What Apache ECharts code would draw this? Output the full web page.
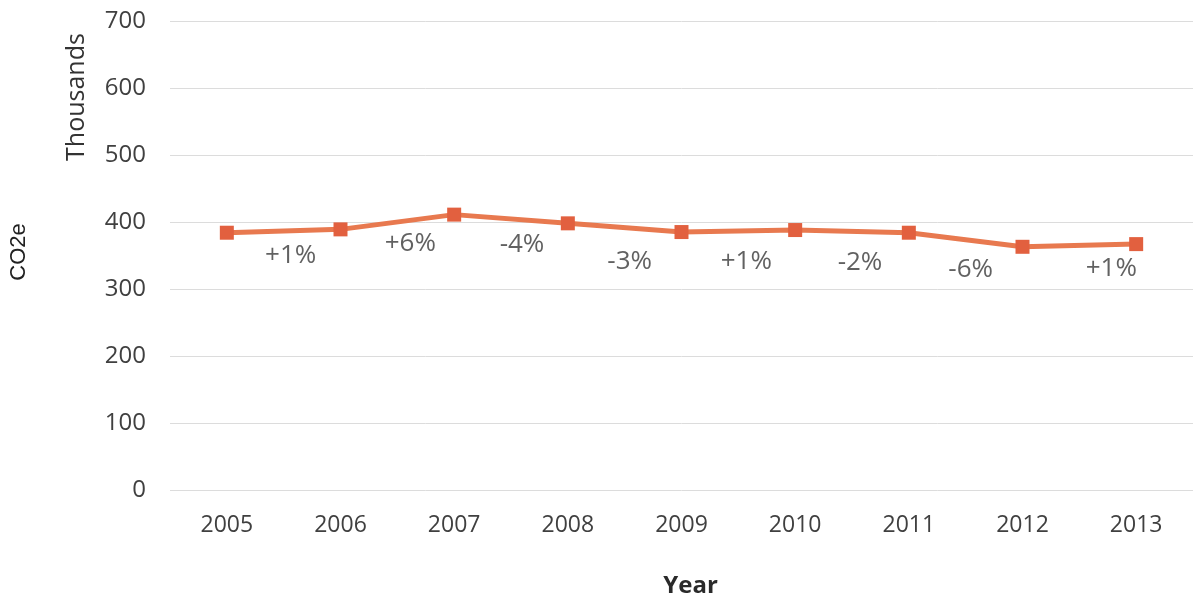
<!DOCTYPE html>
<html><head><meta charset="utf-8">
<script src="https://cdn.jsdelivr.net/npm/echarts@6/dist/echarts.min.js"></script>
<style>html,body{margin:0;padding:0;background:#fff}#c{width:1195px;height:603px}</style>
</head><body><div id="c"></div>
<script>
const years = ['2005','2006','2007','2008','2009','2010','2011','2012','2013'];
const co2e = [384, 389, 411, 398, 385, 388, 384, 363, 367];
const changes = ['+1%','+6%','-4%','-3%','+1%','-2%','-6%','+1%'];
const yTicks = [0,100,200,300,400,500,600,700];

// label offsets (pixels) relative to each segment midpoint
const labelOffsets = [[7,25],[13,22],[11,26],[5,34],[8,31],[8,31],[5,30],[32,23]];

const labelData = changes.map((t,i)=>({
  value:[i+0.5,(co2e[i]+co2e[i+1])/2],
  label:{offset:labelOffsets[i]}
}));

const FONT = '"Open Sans", sans-serif';
const chart = echarts.init(document.getElementById('c'));
chart.setOption({
  backgroundColor:'#fff',
  animation:false,
  grid:{left:170,right:2,top:21,bottom:113,containLabel:false,outerBoundsMode:'none'},
  xAxis:[{
    type:'category',data:years,boundaryGap:true,
    axisLine:{show:false},axisTick:{show:false},
    axisLabel:{color:'#404040',fontFamily:FONT,fontSize:23,margin:24},
    name:'Year',nameLocation:'middle',nameGap:84,
    nameTextStyle:{color:'#2a2a2a',fontFamily:FONT,fontSize:24,fontWeight:'bold',padding:[0,0,0,18]}
  },{
    type:'value',min:-0.5,max:8.5,show:false
  }],
  yAxis:{
    type:'value',min:0,max:700,interval:100,
    axisLine:{show:false},axisTick:{show:false},
    axisLabel:{color:'#404040',fontFamily:FONT,fontSize:24,margin:24,
      formatter:v=>yTicks.includes(v)?String(v):''},
    splitLine:{lineStyle:{color:'#dcdcdc',width:1}}
  },
  graphic:[
    {type:'text',rotation:Math.PI/2,x:77,y:97,style:{text:'Thousands',font:'500 25px "Open Sans"',fill:'#333',align:'center',verticalAlign:'middle'}},
    {type:'text',rotation:Math.PI/2,x:19,y:252,style:{text:'CO2e',font:'22px "Liberation Sans"',fill:'#222',align:'center',verticalAlign:'middle'}}
  ],
  series:[{
    type:'line',data:co2e,
    lineStyle:{color:'#E8794F',width:5},
    itemStyle:{color:'#E2603F'},
    symbol:'rect',symbolSize:14,
    z:3
  },{
    type:'scatter',xAxisIndex:1,data:labelData,symbolSize:0,
    label:{show:true,position:'inside',color:'#3a3a3a',fontFamily:FONT,fontSize:26,
      formatter:p=>changes[p.dataIndex]},
    z:4
  }]
});
</script></body></html>
